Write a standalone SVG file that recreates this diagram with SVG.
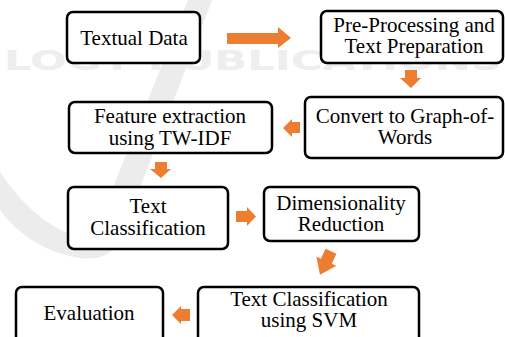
<svg xmlns="http://www.w3.org/2000/svg" width="505" height="337" viewBox="0 0 505 337">
<style>
.box{fill:#fff;stroke:#000;stroke-width:2.5}
.t{font-family:"Liberation Serif","Times New Roman",serif;font-size:21px;fill:#000;text-anchor:middle}
.ar{fill:#ED7D31}
.wm{fill:#ececec}
</style>
<rect width="505" height="337" fill="#fff"/>
<g id="watermark">
<path class="wm" d="M190 -5 L214 -5 L120 240 Q108 262 80 258 Q30 250 0 210 L0 172 Q40 232 92 240 Z"/>
<text x="253" y="70" font-family="DejaVu Sans, sans-serif" font-weight="bold" font-size="27" fill="#eeeeee" text-anchor="middle" textLength="498" lengthAdjust="spacingAndGlyphs">LOGY PUBLICATIONS</text>
</g>
<g id="connectors">
<polygon class="ar" points="227,33 278,33 278,27 291,38 278,48 278,44 227,44"/>
<polygon class="ar" points="405,70 417,70 417,78 421,78 411,88 400,78 405,78"/>
<polygon class="ar" points="300,122 292,122 292,119 283,128 292,137 292,133 300,133"/>
<polygon class="ar" points="155,162 167,162 167,169 171,169 161,178 150,169 155,169"/>
<polygon class="ar" points="236,211 247,211 247,207 256,216.5 247,226 247,222 236,222"/>
<polygon class="ar" transform="translate(325.5,263) rotate(25)" points="-6,-13 6,-13 6,-2 11,-2 0,13 -11,-2 -6,-2"/>
<polygon class="ar" points="190,309 181,309 181,306 172,315 181,324 181,321 190,321"/>
</g>
<g id="n1"><rect class="box" x="67" y="12" width="133" height="51" rx="6"/><text class="t" x="134" y="45">Textual Data</text></g>
<g id="n2"><rect class="box" x="321" y="11" width="182" height="52" rx="6"/><text class="t" x="414" y="32">Pre-Processing and</text><text class="t" x="414" y="53">Text Preparation</text></g>
<g id="n3"><rect class="box" x="305" y="97" width="198" height="61" rx="6"/><text class="t" x="405" y="123">Convert to Graph-of-</text><text class="t" x="405" y="144">Words</text></g>
<g id="n4"><rect class="box" x="69" y="102" width="203" height="51" rx="6"/><text class="t" x="170" y="123">Feature extraction</text><text class="t" x="170" y="145">using TW-IDF</text></g>
<g id="n5"><rect class="box" x="68" y="187" width="160" height="62" rx="6"/><text class="t" x="148" y="213">Text</text><text class="t" x="148" y="235">Classification</text></g>
<g id="n6"><rect class="box" x="264" y="187" width="155" height="54" rx="6"/><text class="t" x="341" y="210">Dimensionality</text><text class="t" x="341" y="231">Reduction</text></g>
<g id="n7"><rect class="box" x="198" y="287" width="221" height="62" rx="6"/><text class="t" x="309" y="306">Text Classification</text><text class="t" x="309" y="327">using SVM</text></g>
<g id="n8"><rect class="box" x="16" y="287" width="147" height="62" rx="6"/><text class="t" x="89" y="320">Evaluation</text></g>
</svg>
